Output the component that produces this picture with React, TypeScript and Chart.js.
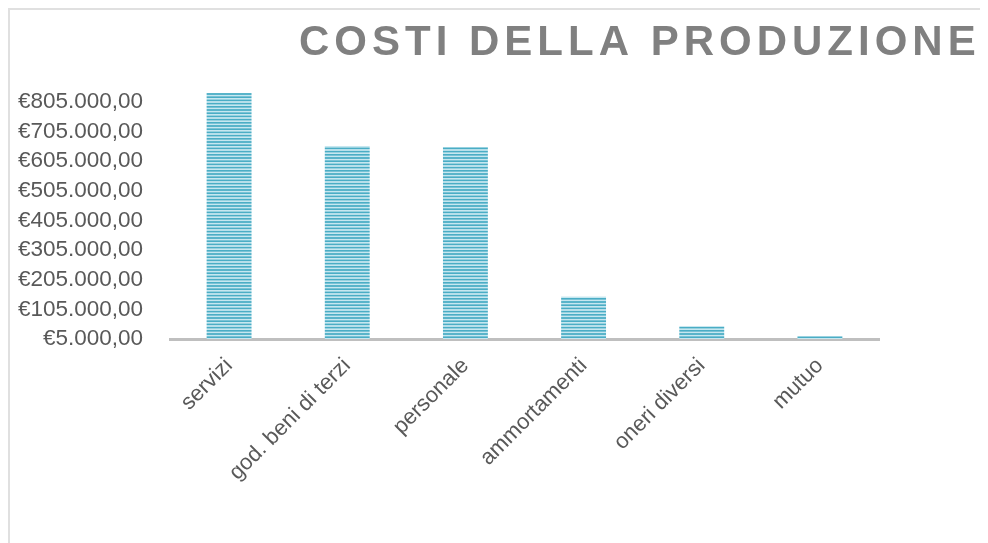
import React, { useEffect, useRef } from 'react';
import { Chart, registerables } from 'chart.js';

Chart.register(...registerables);

const chartTitle = 'COSTI DELLA PRODUZIONE';
const categories = ['servizi', 'god. beni di terzi', 'personale', 'ammortamenti', 'oneri diversi', 'mutuo'];
const costValues = [835400, 656500, 653100, 147800, 47900, 14000];
const yTickValues = [5000, 105000, 205000, 305000, 405000, 505000, 605000, 705000, 805000];
const yMin = 5000;
const yMax = 855000;

const FONT = '"Liberation Sans", Arial, sans-serif';

function formatEuro(v: number): string {
  const s = Math.round(v).toString().replace(/\B(?=(\d{3})+(?!\d))/g, '.');
  return '€' + s + ',00';
}

function makePattern(): CanvasPattern | string {
  const c = document.createElement('canvas');
  c.width = 4;
  c.height = 4;
  const g = c.getContext('2d');
  if (!g) return '#7cc4d6';
  g.fillStyle = '#c6e7f0';
  g.fillRect(0, 0, 4, 4);
  g.fillStyle = '#4aadc5';
  g.fillRect(0, 0, 4, 2);
  const p = g.createPattern(c, 'repeat');
  if (!p) return '#7cc4d6';
  try {
    p.setTransform(new DOMMatrix().scale(1, 0.8));
  } catch (e) {
    /* ignore */
  }
  return p;
}

const titlePlugin = {
  id: 'spacedTitle',
  afterDraw(chart: any) {
    const ctx = chart.ctx as CanvasRenderingContext2D;
    ctx.save();
    ctx.font = 'bold 42px ' + FONT;
    (ctx as any).letterSpacing = '5px';
    ctx.fillStyle = '#808080';
    ctx.textAlign = 'left';
    ctx.textBaseline = 'alphabetic';
    ctx.fillText(chartTitle, 289, 45);
    ctx.restore();
  },
};

export default function App() {
  const ref = useRef<HTMLCanvasElement | null>(null);

  useEffect(() => {
    document.body.style.overflow = 'hidden';
    document.documentElement.style.overflow = 'hidden';
    const canvas = ref.current;
    if (!canvas) return;
    const pattern = makePattern();
    const chart = new Chart(canvas, {
      type: 'bar',
      data: {
        labels: categories,
        datasets: [
          {
            data: costValues,
            backgroundColor: pattern as any,
            borderWidth: 0,
            categoryPercentage: 1,
            barPercentage: 0.38,
          },
        ],
      },
      plugins: [titlePlugin],
      options: {
        animation: false,
        responsive: false,
        devicePixelRatio: 1,
        layout: { padding: { top: 77.2, right: 129, bottom: 0, left: 0 } },
        plugins: {
          legend: { display: false },
          title: { display: false },
          tooltip: { enabled: false },
        },
        scales: {
          x: {
            grid: { display: false, drawTicks: false },
            border: { display: true, color: '#bfbfbf', width: 3 },
            ticks: {
              color: '#595959',
              font: { family: FONT, size: 22 },
              minRotation: 45,
              maxRotation: 45,
              padding: 14,
              autoSkip: false,
            },
            afterFit: (s: any) => {
              s.height = 204;
            },
          },
          y: {
            min: yMin,
            max: yMax,
            grid: { display: false, drawTicks: false },
            border: { display: false },
            ticks: {
              color: '#595959',
              font: { family: FONT, size: 22.5 },
              padding: 27,
              callback: (v: any) => formatEuro(Number(v)),
            },
            afterBuildTicks: (s: any) => {
              s.ticks = yTickValues.map((v) => ({ value: v }));
            },
            afterFit: (s: any) => {
              s.width = 160;
            },
          },
        },
      },
    });
    return () => chart.destroy();
  }, []);

  return (
    <div
      style={{
        width: 1000,
        height: 535,
        boxSizing: 'border-box',
        borderTop: '2px solid #e0e0e0',
        borderLeft: '2px solid #e0e0e0',
        background: '#ffffff',
      }}
    >
      <canvas ref={ref} width={998} height={533} style={{ display: 'block', width: 998, height: 533 }} />
    </div>
  );
}
